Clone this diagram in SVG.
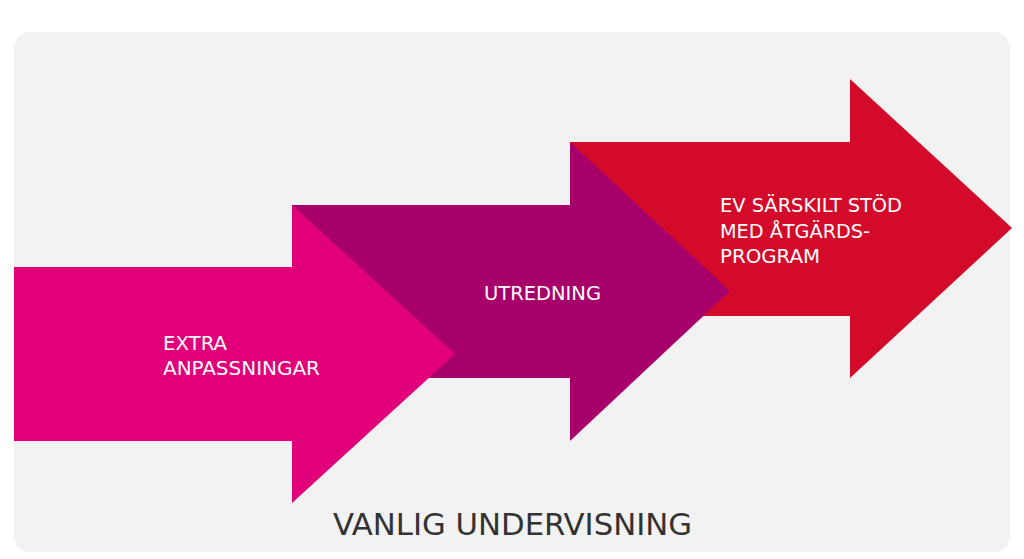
<svg xmlns="http://www.w3.org/2000/svg" width="1024" height="559" viewBox="0 0 1024 559">
<style>
.t{font-family:"DejaVu Sans Condensed","Liberation Sans",sans-serif;fill:#fff;font-size:19px;font-weight:500}
.c{font-family:"DejaVu Sans Condensed","Liberation Sans",sans-serif;fill:#333;font-size:31px}
</style>
<rect x="0" y="0" width="1024" height="559" fill="#fff"/>
<rect x="14" y="32" width="996" height="520" rx="16" fill="#f2f2f2"/>
<g id="connectors"/>
<g id="arrow3">
<polygon points="570,142 850,142 850,79 1012,228 850,378 850,316 570,316" fill="#d40a2a"/>
<text class="t" x="720" y="212" textLength="182" lengthAdjust="spacingAndGlyphs">EV SÄRSKILT STÖD</text>
<text class="t" x="720" y="238" textLength="150" lengthAdjust="spacingAndGlyphs">MED ÅTGÄRDS-</text>
<text class="t" x="720" y="263" textLength="100" lengthAdjust="spacingAndGlyphs">PROGRAM</text>
</g>
<g id="arrow2">
<polygon points="292,205 570,205 570,142 730,291 570,441 570,378 292,378" fill="#a8006a"/>
<text class="t" x="484" y="300" textLength="117" lengthAdjust="spacingAndGlyphs">UTREDNING</text>
</g>
<g id="arrow1">
<polygon points="14,267 292,267 292,205 455,354 292,503 292,441 14,441" fill="#e2007a"/>
<text class="t" x="163" y="350" textLength="64" lengthAdjust="spacingAndGlyphs">EXTRA</text>
<text class="t" x="163" y="375" textLength="157" lengthAdjust="spacingAndGlyphs">ANPASSNINGAR</text>
</g>
<g id="label">
<text class="c" x="333" y="535" textLength="359" lengthAdjust="spacingAndGlyphs">VANLIG UNDERVISNING</text>
</g>
</svg>
